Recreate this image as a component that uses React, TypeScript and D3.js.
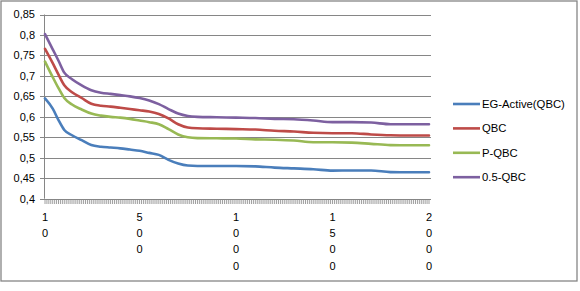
import React, { useEffect, useRef } from "react";
import * as d3 from "d3";

const iterations = [10, 50, 80, 110, 150, 200, 250, 300, 350, 400, 450, 500, 550, 600, 650, 700, 750, 800, 900, 1000, 1100, 1200, 1300, 1400, 1500, 1600, 1700, 1800, 1900, 2000];
const egActive = [0.645, 0.62, 0.592, 0.568, 0.555, 0.543, 0.531, 0.527, 0.525, 0.523, 0.52, 0.517, 0.512, 0.507, 0.495, 0.486, 0.481, 0.48, 0.48, 0.48, 0.479, 0.476, 0.474, 0.472, 0.4685, 0.469, 0.469, 0.465, 0.4645, 0.4645];
const qbc = [0.766, 0.731, 0.703, 0.677, 0.66, 0.646, 0.632, 0.627, 0.625, 0.622, 0.619, 0.616, 0.613, 0.607, 0.596, 0.582, 0.574, 0.572, 0.571, 0.57, 0.569, 0.566, 0.564, 0.561, 0.56, 0.56, 0.557, 0.555, 0.5545, 0.5545];
const pQbc = [0.735, 0.697, 0.67, 0.646, 0.63, 0.618, 0.608, 0.603, 0.6, 0.598, 0.595, 0.591, 0.587, 0.582, 0.57, 0.557, 0.55, 0.548, 0.5475, 0.547, 0.545, 0.544, 0.542, 0.538, 0.538, 0.537, 0.534, 0.531, 0.5305, 0.5305];
const halfQbc = [0.802, 0.765, 0.737, 0.708, 0.692, 0.677, 0.665, 0.659, 0.656, 0.653, 0.65, 0.646, 0.64, 0.631, 0.619, 0.608, 0.602, 0.6, 0.599, 0.598, 0.597, 0.595, 0.594, 0.591, 0.587, 0.587, 0.586, 0.582, 0.582, 0.582];
const seriesNames = ["EG-Active(QBC)", "QBC", "P-QBC", "0.5-QBC"];
const seriesColors = ["#4A7EBB", "#BE4B48", "#98B954", "#7D60A0"];
const yTicks = [0.4, 0.45, 0.5, 0.55, 0.6, 0.65, 0.7, 0.75, 0.8, 0.85];
const xLabels = [10, 500, 1000, 1500, 2000];

export default function App() {
  const ref = useRef<SVGSVGElement>(null);
  useEffect(() => {
    const svg = d3.select(ref.current);
    svg.selectAll("*").remove();
    const font = "'Liberation Sans', Arial, sans-serif";
    const grid = "#868686";
    const x = d3.scaleLinear().domain([10, 2000]).range([45, 429]);
    const y = d3.scaleLinear().domain([0.4, 0.85]).range([198.7, 14.5]);
    const left = 44, right = 431;

    svg.append("rect").attr("x", 1).attr("y", 1).attr("width", 576).attr("height", 280)
      .attr("fill", "white").attr("stroke", grid).attr("stroke-width", 1.3);

    // gridlines
    yTicks.forEach((t) => {
      svg.append("line").attr("x1", left - 4).attr("x2", t === 0.4 ? left : right)
        .attr("y1", Math.round(y(t)) + 0.5).attr("y2", Math.round(y(t)) + 0.5)
        .attr("stroke", grid).attr("stroke-width", 1);
      svg.append("text").attr("x", 35).attr("y", y(t)).attr("dy", "0.35em")
        .attr("text-anchor", "end").attr("font-family", font).attr("font-size", 11)
        .attr("fill", "#000").text(String(t).replace(".", ","));
    });
    // axes
    svg.append("line").attr("x1", left + 0.5).attr("x2", left + 0.5).attr("y1", y(0.85)).attr("y2", y(0.4))
      .attr("stroke", grid).attr("stroke-width", 1);
    const axisY = Math.round(y(0.4)) + 0.5;
    svg.append("line").attr("x1", left).attr("x2", right).attr("y1", axisY).attr("y2", axisY)
      .attr("stroke", grid).attr("stroke-width", 1);
    const ticks = d3.range(10, 2001, 10);
    svg.append("g").selectAll("line").data(ticks).join("line")
      .attr("x1", (d) => x(d)).attr("x2", (d) => x(d))
      .attr("y1", axisY).attr("y2", axisY + 4.5)
      .attr("stroke", grid).attr("stroke-width", 0.8);

    xLabels.forEach((v) => {
      const chars = String(v).split("");
      chars.forEach((c, i) => {
        svg.append("text").attr("x", x(v)).attr("y", 220.5 + i * 16.4)
          .attr("text-anchor", "middle").attr("font-family", font).attr("font-size", 11)
          .attr("fill", "#000").text(c);
      });
    });

    const allSeries = [egActive, qbc, pQbc, halfQbc];
    const line = d3.line<number>().x((_, i) => x(iterations[i])).y((d) => y(d)).curve(d3.curveMonotoneX);
    allSeries.forEach((s, k) => {
      svg.append("path").attr("d", line(s) as string).attr("fill", "none")
        .attr("stroke", seriesColors[k]).attr("stroke-width", 2.6)
        .attr("stroke-linejoin", "round").attr("stroke-linecap", "round");
    });

    seriesNames.forEach((n, k) => {
      const ly = 104 + k * 24.4;
      svg.append("line").attr("x1", 453).attr("x2", 480).attr("y1", ly).attr("y2", ly)
        .attr("stroke", seriesColors[k]).attr("stroke-width", 2.6);
      svg.append("text").attr("x", 482).attr("y", ly).attr("dy", "0.35em")
        .attr("font-family", font).attr("font-size", 11.3).attr("fill", "#000").text(n);
    });
  }, []);
  return (
    <div style={{ position: "absolute", left: 0, top: 0 }}>
      <svg ref={ref} width={580} height={291} style={{ display: "block" }} />
    </div>
  );
}
